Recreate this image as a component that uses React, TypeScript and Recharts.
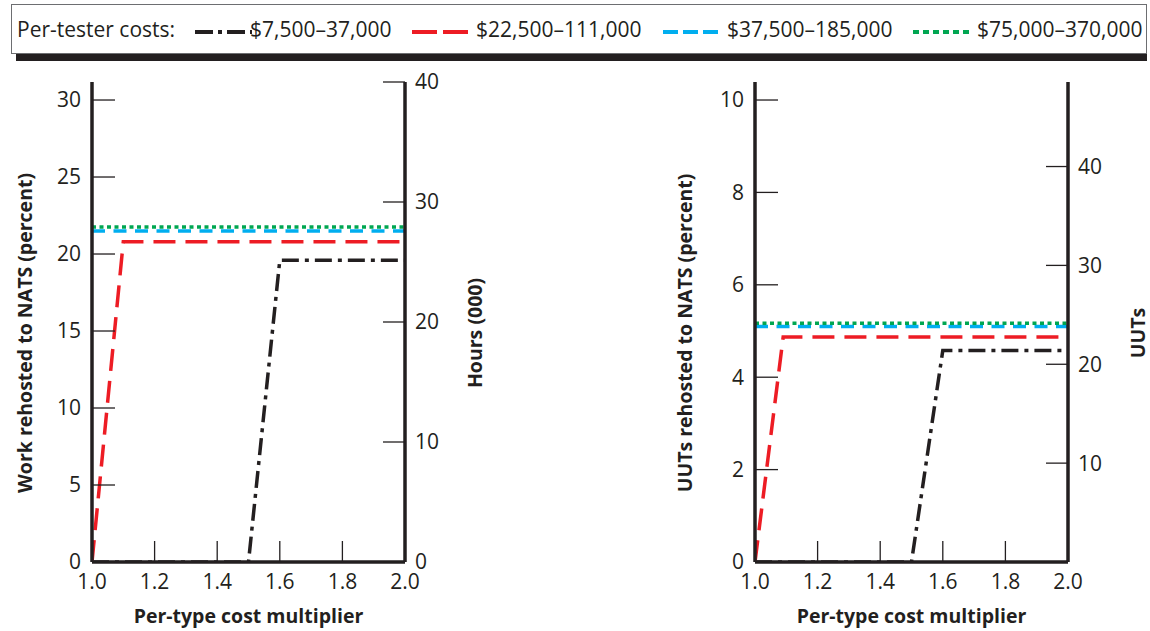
import React from 'react';
import { LineChart, Line, XAxis, YAxis, Label } from 'recharts';

const INK = '#231f20';
const FONT = '"Open Sans", sans-serif';

// shared x categories (per-type cost multiplier)
const multipliers = [1.0, 1.2, 1.4, 1.6, 1.8, 2.0];

// legend labels, one per tester cost band
const costBands = ['$7,500–37,000', '$22,500–111,000', '$37,500–185,000', '$75,000–370,000'];

// left panel: work rehosted to NATS (percent)
const workLow = [{ x: 1.0, y: 0 }, { x: 1.5, y: 0 }, { x: 1.6, y: 19.6 }, { x: 2.0, y: 19.6 }];
const workMid = [{ x: 1.0, y: 0 }, { x: 1.1, y: 20.8 }, { x: 2.0, y: 20.8 }];
const workHigh = [{ x: 1.0, y: 21.5 }, { x: 2.0, y: 21.5 }];
const workTop = [{ x: 1.0, y: 21.75 }, { x: 2.0, y: 21.75 }];

// right panel: UUTs rehosted to NATS (percent)
const uutLow = [{ x: 1.0, y: 0 }, { x: 1.5, y: 0 }, { x: 1.6, y: 4.58 }, { x: 2.0, y: 4.58 }];
const uutMid = [{ x: 1.0, y: 0 }, { x: 1.09, y: 4.87 }, { x: 2.0, y: 4.87 }];
const uutHigh = [{ x: 1.0, y: 5.1 }, { x: 2.0, y: 5.1 }];
const uutTop = [{ x: 1.0, y: 5.17 }, { x: 2.0, y: 5.17 }];

const workTicks = [0, 5, 10, 15, 20, 25, 30];
const hoursTicks = [0, 10, 20, 30, 40];
const uutPctTicks = [0, 2, 4, 6, 8, 10];
const uutCountTicks = [10, 20, 30, 40];

const lineStyles = [
  { color: '#231f20', dash: '17 6 4 6', legendDash: '18 5 4 5' },
  { color: '#ed1c24', dash: '22 10', legendDash: '25 6' },
  { color: '#00aeef', dash: '13 8.5', legendDash: '15 5' },
  { color: '#00a651', dash: '4 3.5', legendDash: '6 4' },
];

type Pt = { x: number; y: number };

interface PanelProps {
  left: number;
  series: Pt[][];
  leftDomain: [number, number];
  leftTicks: number[];
  rightDomain: [number, number];
  rightTicks: number[];
  leftTitle: string;
  rightTitle: string;
  leftAxisWidth: number;
  rightAxisWidth: number;
  leftTitleX: number;
  rightTitleX: number;
}

const titleStyle = { fontFamily: FONT, fontWeight: 700, fontSize: 19.5, fill: INK };

const vTitle = (text: string, bx: number) => () => (
  <text x={bx} y={333} transform={`rotate(-90, ${bx}, 333)`} textAnchor="middle" style={titleStyle}>
    {text}
  </text>
);

const xTitle = (props: any) => {
  const vb = props.viewBox || { x: 0, width: 0 };
  return (
    <text x={vb.x + vb.width / 2} y={622.5} textAnchor="middle" style={titleStyle}>
      Per-type cost multiplier
    </text>
  );
};

const tickFont = { fill: INK, fontSize: 21, fontFamily: FONT };
const axisLine = { stroke: INK, strokeWidth: 3.5 };
const tickLine = { stroke: INK, strokeWidth: 1.3 };

const Panel = (p: PanelProps) => (
  <div style={{ position: 'absolute', left: p.left, top: 0 }}>
    <LineChart width={575} height={631} margin={{ top: 82, right: 10, bottom: 5, left: 10 }}>
      <XAxis
        xAxisId="b"
        dataKey="x"
        type="number"
        domain={[1, 2]}
        ticks={multipliers}
        allowDataOverflow
        tickFormatter={(v: number) => v.toFixed(1)}
        height={64}
        tickSize={-21}
        tickMargin={33}
        axisLine={axisLine}
        tickLine={tickLine}
        tick={tickFont}
      >
        <Label content={xTitle} />
      </XAxis>
      <XAxis
        xAxisId="t"
        orientation="top"
        type="number"
        domain={[1, 2]}
        allowDataOverflow
        height={0}
        tick={false}
        tickLine={false}
        axisLine={{ stroke: INK, strokeWidth: 1.6 }}
      />
      <YAxis
        yAxisId="l"
        type="number"
        domain={p.leftDomain}
        ticks={p.leftTicks}
        allowDataOverflow
        width={p.leftAxisWidth}
        tickSize={-23}
        tickMargin={34}
        axisLine={axisLine}
        tickLine={tickLine}
        tick={tickFont}
      >
        <Label content={vTitle(p.leftTitle, p.leftTitleX)} />
      </YAxis>
      <YAxis
        yAxisId="r"
        orientation="right"
        type="number"
        domain={p.rightDomain}
        ticks={p.rightTicks}
        allowDataOverflow
        width={p.rightAxisWidth}
        tickSize={-22}
        tickMargin={32}
        axisLine={axisLine}
        tickLine={tickLine}
        tick={tickFont}
      >
        <Label content={vTitle(p.rightTitle, p.rightTitleX)} />
      </YAxis>
      {p.series.map((d, i) => (
        <Line
          key={i}
          xAxisId="b"
          yAxisId="l"
          data={d}
          dataKey="y"
          type="linear"
          stroke={lineStyles[i].color}
          strokeWidth={3.5}
          strokeDasharray={lineStyles[i].dash}
          dot={false}
          activeDot={false}
          isAnimationActive={false}
        />
      ))}
    </LineChart>
  </div>
);

const legendPos = [
  { line: 195, text: 250 },
  { line: 412, text: 476 },
  { line: 663, text: 727 },
  { line: 913, text: 977 },
];

const legendText = { position: 'absolute' as const, top: 15, fontSize: 21, lineHeight: '28px', color: INK, whiteSpace: 'nowrap' as const };

const LegendBox = () => (
  <>
    <div
      style={{
        position: 'absolute', left: 11, top: 4, width: 1136, height: 50,
        border: '1.5px solid #6d6e71', boxSizing: 'border-box',
      }}
    />
    <div style={{ position: 'absolute', left: 16, top: 54, width: 1131, height: 7, background: INK }} />
    <div style={{ ...legendText, left: 17 }}>Per-tester costs:</div>
    {costBands.map((name, i) => (
      <React.Fragment key={name}>
        <svg style={{ position: 'absolute', left: legendPos[i].line, top: 26.5 }} width={57} height={10}>
          <line x1={0} y1={5} x2={57} y2={5} stroke={lineStyles[i].color} strokeWidth={4} strokeDasharray={lineStyles[i].legendDash} />
        </svg>
        <div style={{ ...legendText, left: legendPos[i].text }}>{name}</div>
      </React.Fragment>
    ))}
  </>
);

export default function App() {
  return (
    <div style={{ position: 'absolute', left: 0, top: 0, width: 1150, height: 631, background: '#fff', fontFamily: FONT, overflow: 'hidden' }}>
      <LegendBox />
      <Panel
        left={0}
        series={[workLow, workMid, workHigh, workTop]}
        leftDomain={[0, 31.17]}
        leftTicks={workTicks}
        rightDomain={[0, 40]}
        rightTicks={hoursTicks}
        leftTitle="Work rehosted to NATS (percent)"
        rightTitle="Hours (000)"
        leftAxisWidth={82}
        rightAxisWidth={160}
        leftTitleX={31.5}
        rightTitleX={482}
      />
      <Panel
        left={575}
        series={[uutLow, uutMid, uutHigh, uutTop]}
        leftDomain={[0, 10.39]}
        leftTicks={uutPctTicks}
        rightDomain={[0, 48.55]}
        rightTicks={uutCountTicks}
        leftTitle="UUTs rehosted to NATS (percent)"
        rightTitle="UUTs"
        leftAxisWidth={170}
        rightAxisWidth={72}
        leftTitleX={117}
        rightTitleX={570}
      />
    </div>
  );
}
